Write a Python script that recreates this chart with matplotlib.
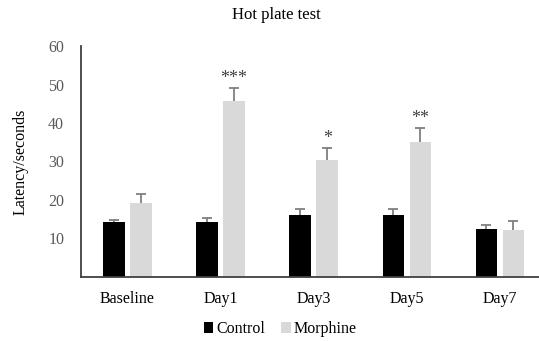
import numpy as np
import matplotlib.pyplot as plt

# values
days = ["Baseline", "Day1", "Day3", "Day5", "Day7"]
control = [14.2, 14.2, 16.1, 16.1, 12.5]
control_err = [0.5, 1.1, 1.5, 1.5, 1.0]
morphine = [19.2, 45.6, 30.3, 35.1, 12.3]
morphine_err = [2.3, 3.4, 3.1, 3.6, 2.3]
stars = ["", "***", "*", "**", ""]

plt.rcParams['font.family'] = ['Liberation Serif', 'DejaVu Serif']

fig = plt.figure(figsize=(5.39, 3.41), dpi=100)
ax = fig.add_axes([0.150, 0.188, 0.85, 0.677])

x = np.arange(len(days))
w = 0.23
off = 0.145

ax.bar(x - off, control, w, color="black", label="Control", zorder=2)
ax.bar(x + off, morphine, w, color="#d9d9d9", label="Morphine", zorder=2)

# upward-only error bars, cap on top only
for xs, vals, errs in [(x - off, control, control_err), (x + off, morphine, morphine_err)]:
    eb = ax.errorbar(xs, vals, yerr=[np.zeros(len(days)), errs], fmt="none",
                     ecolor="#7f7f7f", elinewidth=1.3, capsize=3.5, capthick=1.3, zorder=3)
    eb[1][0].set_visible(False)

for i, s in enumerate(stars):
    if s:
        ax.text(x[i] + off, morphine[i] + morphine_err[i] + 0.3, s, ha="center",
                va="bottom", fontsize=13, color="#404040")

ax.set_ylim(0, 60)
ax.set_xlim(-0.5, 4.42)
ax.set_yticks([10, 20, 30, 40, 50, 60])
ax.set_xticks(x)
ax.set_xticklabels(days, fontsize=11.5)
ax.tick_params(axis="y", length=0, labelsize=11.5, labelcolor="#595959", pad=12)
ax.tick_params(axis="x", length=0, pad=10)

for s in ["top", "right"]:
    ax.spines[s].set_visible(False)
ax.spines["left"].set_color("#404040")
ax.spines["bottom"].set_color("#404040")
ax.spines["left"].set_linewidth(1.3)
ax.spines["bottom"].set_linewidth(1.3)

ax.set_ylabel("Latency/seconds", fontsize=11.5, labelpad=14)
fig.text(0.512, 0.955, "Hot plate test", ha="center", va="center", fontsize=12)

fig.legend(loc="center", bbox_to_anchor=(0.52, 0.035), ncol=2, frameon=False,
           fontsize=11.5, handlelength=0.6, handleheight=0.6, handletextpad=0.2,
           columnspacing=1.0)

fig.savefig("out.png", dpi=100)
